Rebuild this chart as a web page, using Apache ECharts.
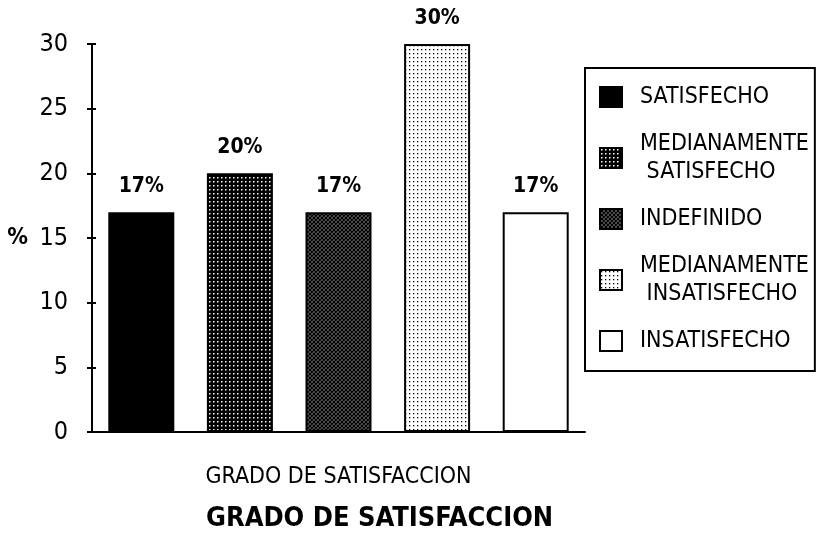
<!DOCTYPE html>
<html>
<head>
<meta charset="utf-8">
<script src="https://cdn.jsdelivr.net/npm/echarts@6/dist/echarts.min.js"></script>
<style>
  html, body { margin: 0; padding: 0; background: #fff; }
  #box { width: 817px; height: 534px; }
</style>
</head>
<body>
<div id="box"></div>
<script>
  // datos
  const categorias = ['SATISFECHO', 'MEDIANAMENTE SATISFECHO', 'INDEFINIDO', 'MEDIANAMENTE INSATISFECHO', 'INSATISFECHO'];
  const etiquetasLeyenda = ['SATISFECHO', 'MEDIANAMENTE\n SATISFECHO', 'INDEFINIDO', 'MEDIANAMENTE\n INSATISFECHO', 'INSATISFECHO'];
  const porcentajes = [17, 20, 17, 30, 17];
  const ticksY = [0, 5, 10, 15, 20, 25, 30];

  const font = '"DejaVu Sans Condensed", "Liberation Sans Narrow", sans-serif';

  // tramas tipo impresora
  function trama(size, fondo, dibujar) {
    const c = document.createElement('canvas');
    c.width = size;
    c.height = size;
    const g = c.getContext('2d');
    g.fillStyle = fondo;
    g.fillRect(0, 0, size, size);
    dibujar(g, size);
    return { image: c, repeat: 'repeat' };
  }

  const rellenos = [
    '#000',
    trama(4, '#000', (g) => {
      g.fillStyle = '#fff';
      g.fillRect(1, 1, 1.5, 1.5);
    }),
    trama(4, '#fff', (g) => {
      g.strokeStyle = '#000';
      g.lineWidth = 1.7;
      g.beginPath();
      g.moveTo(0, 0); g.lineTo(4, 4);
      g.moveTo(0, 4); g.lineTo(4, 0);
      g.stroke();
      g.fillStyle = '#222';
      g.fillRect(0, 0, 1, 1);
    }),
    trama(4, '#fff', (g) => {
      g.fillStyle = '#000';
      g.fillRect(1, 1, 1.3, 1.3);
    }),
    '#fff',
  ];

  const series = categorias.map((nombre, i) => ({
    name: nombre,
    type: 'bar',
    stack: 'total',
    barWidth: 66,
    data: porcentajes.map((v, j) => (j === i ? v : '-')),
    itemStyle: {
      color: rellenos[i],
      borderColor: '#000',
      borderWidth: 2,
    },
    label: {
      show: true,
      position: 'top',
      distance: 15,
      formatter: '{c}%',
      color: '#000',
      fontFamily: font,
      fontSize: 21,
      fontWeight: 'bold',
    },
  }));

  const chart = echarts.init(document.getElementById('box'));
  chart.setOption({
    animation: false,
    backgroundColor: '#fff',
    title: {
      text: 'GRADO DE SATISFACCION',
      left: 201,
      top: 500,
      textStyle: {
        fontFamily: font,
        fontSize: 27,
        fontWeight: 'bold',
        color: '#000',
      },
    },
    grid: {
      left: 92,
      right: 232,
      top: 44,
      bottom: 102,
    },
    legend: {
      orient: 'vertical',
      left: 585,
      top: 68,
      padding: [15, 6, 16, 14],
      borderColor: '#000',
      borderWidth: 2,
      itemGap: 19,
      itemWidth: 22,
      itemHeight: 20,
      icon: 'rect',
      data: categorias,
      formatter: (n) => etiquetasLeyenda[categorias.indexOf(n)],
      textStyle: {
        fontFamily: font,
        fontSize: 23,
        lineHeight: 28,
        color: '#000',
        padding: [0, 0, 0, 13],
      },
    },
    xAxis: {
      type: 'category',
      data: categorias,
      name: 'GRADO DE SATISFACCION',
      nameLocation: 'middle',
      nameGap: 34,
      nameTextStyle: {
        fontFamily: font,
        fontSize: 23,
        color: '#000',
      },
      axisLine: { lineStyle: { color: '#000', width: 2 } },
      axisTick: { length: 6, lineStyle: { color: '#000', width: 2 } },
      axisLabel: { show: false },
    },
    yAxis: [
      {
        type: 'value',
        min: ticksY[0],
        max: ticksY[ticksY.length - 1],
        interval: ticksY[1] - ticksY[0],
        name: '%',
        nameLocation: 'middle',
        nameRotate: 0,
        nameGap: 64,
        nameTextStyle: {
          fontFamily: font,
          fontSize: 23,
          fontWeight: 'bold',
          color: '#000',
        },
        axisLine: { show: true, lineStyle: { color: '#000', width: 2 } },
        axisTick: { show: true, length: 5, lineStyle: { color: '#000', width: 2 } },
        axisLabel: {
          margin: 24,
          fontFamily: font,
          fontSize: 25,
          color: '#000',
        },
        splitLine: { show: false },
      },
      {
        type: 'value',
        position: 'left',
        min: ticksY[0],
        max: ticksY[ticksY.length - 1],
        interval: ticksY[1] - ticksY[0],
        axisLine: { show: false },
        axisTick: { show: true, inside: true, length: 4, lineStyle: { color: '#000', width: 2 } },
        axisLabel: { show: false },
        splitLine: { show: false },
      },
    ],
    series,
  });
</script>
</body>
</html>
